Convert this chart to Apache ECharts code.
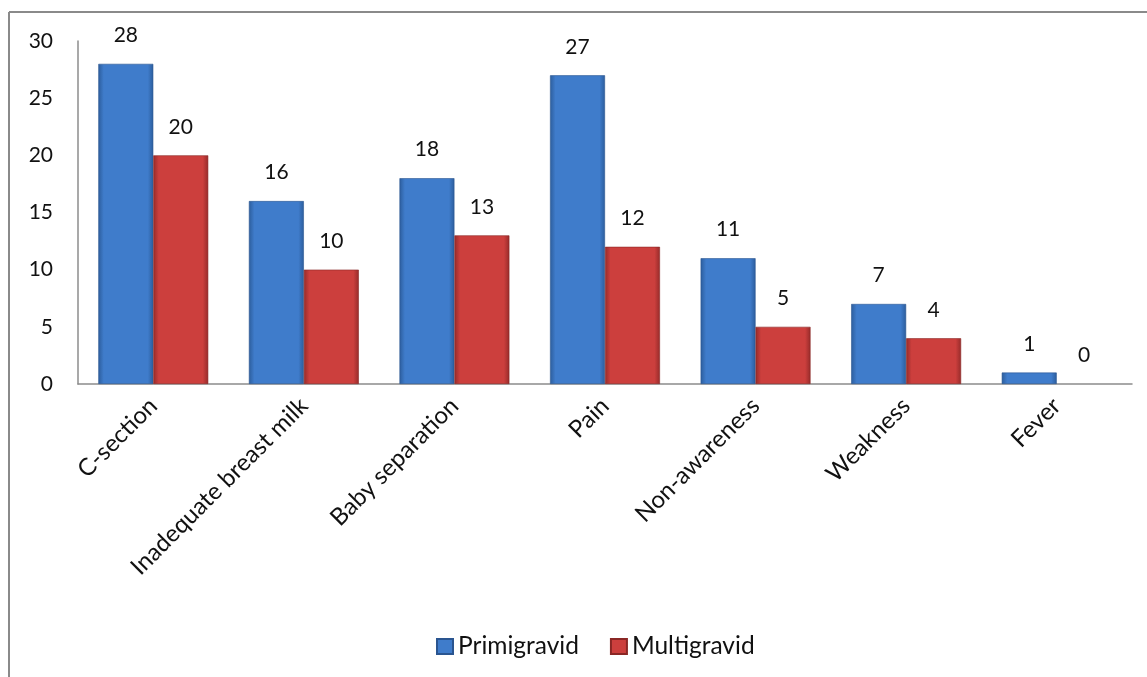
<!DOCTYPE html>
<html>
<head>
<meta charset="utf-8">
<script src="https://cdn.jsdelivr.net/npm/echarts@6/dist/echarts.min.js"></script>
<style>
  html, body { margin: 0; padding: 0; background: #fff; }
  #chart { width: 1147px; height: 677px; }
</style>
</head>
<body>
<div id="chart"></div>
<script>
const categories = ['C-section', 'Inadequate breast milk', 'Baby separation', 'Pain', 'Non-awareness', 'Weakness', 'Fever'];
const primigravid = [28, 16, 18, 27, 11, 7, 1];
const multigravid = [20, 10, 13, 12, 5, 4, 0];
const yTicks = { min: 0, max: 30, interval: 5 };

const FONT = 'Lato, "Open Sans", sans-serif';

// Horizontal gradient: darker edges give the bars a bevelled look
function barFill(edge, mid) {
  return {
    type: 'linear', x: 0, y: 0, x2: 1, y2: 0,
    colorStops: [
      { offset: 0, color: edge },
      { offset: 0.1, color: mid },
      { offset: 0.9, color: mid },
      { offset: 1, color: edge }
    ]
  };
}

// Zero-height bars are left unpainted; their value label still shows
function barData(values) {
  return values.map(v => v === 0
    ? { value: v, itemStyle: { color: 'rgba(0,0,0,0)', borderWidth: 0 } }
    : v);
}

const valueLabel = {
  show: true, position: 'top', distance: 18,
  fontFamily: FONT, fontSize: 21, color: '#111'
};

const chart = echarts.init(document.getElementById('chart'));
chart.setOption({
  backgroundColor: '#fff',
  animation: false,
  textStyle: { fontFamily: FONT },
  graphic: [
    { type: 'line', shape: { x1: 9, y1: 12, x2: 1147, y2: 12 },
      style: { stroke: '#8a8a8a', lineWidth: 2 }, silent: true },
    { type: 'line', shape: { x1: 9, y1: 12, x2: 9, y2: 677 },
      style: { stroke: '#8a8a8a', lineWidth: 2 }, silent: true }
  ],
  grid: { left: 78, right: 15, top: 41, bottom: 293, containLabel: false },
  legend: {
    top: 629, left: 431,
    itemWidth: 16, itemHeight: 15, itemGap: 31,
    icon: 'rect',
    textStyle: { fontFamily: FONT, fontSize: 24.5, color: '#111' },
    data: ['Primigravid', 'Multigravid']
  },
  xAxis: {
    type: 'category',
    data: categories,
    axisLine: { lineStyle: { color: '#8c8c8c', width: 1.5 } },
    axisTick: { show: false },
    axisLabel: {
      rotate: 45, interval: 0, margin: 18,
      fontFamily: FONT, fontSize: 24, color: '#111'
    }
  },
  yAxis: {
    type: 'value',
    min: yTicks.min, max: yTicks.max, interval: yTicks.interval,
    splitLine: { show: false },
    axisLine: { show: true, lineStyle: { color: '#8c8c8c', width: 1.5 } },
    axisTick: { show: false },
    axisLabel: { margin: 25, fontFamily: FONT, fontSize: 21, color: '#111' }
  },
  series: [
    {
      name: 'Primigravid', type: 'bar', data: barData(primigravid),
      barWidth: '36.5%', barGap: '0%',
      itemStyle: {
        color: barFill('#2c5d9c', '#3f7ccb'),
        borderColor: '#2a5590', borderWidth: 0.6
      },
      label: valueLabel
    },
    {
      name: 'Multigravid', type: 'bar', data: barData(multigravid),
      barWidth: '36.5%', barGap: '0%',
      itemStyle: {
        color: barFill('#962b2a', '#cc3f3d'),
        borderColor: '#8a2725', borderWidth: 0.6
      },
      label: valueLabel
    }
  ]
});
</script>
</body>
</html>
